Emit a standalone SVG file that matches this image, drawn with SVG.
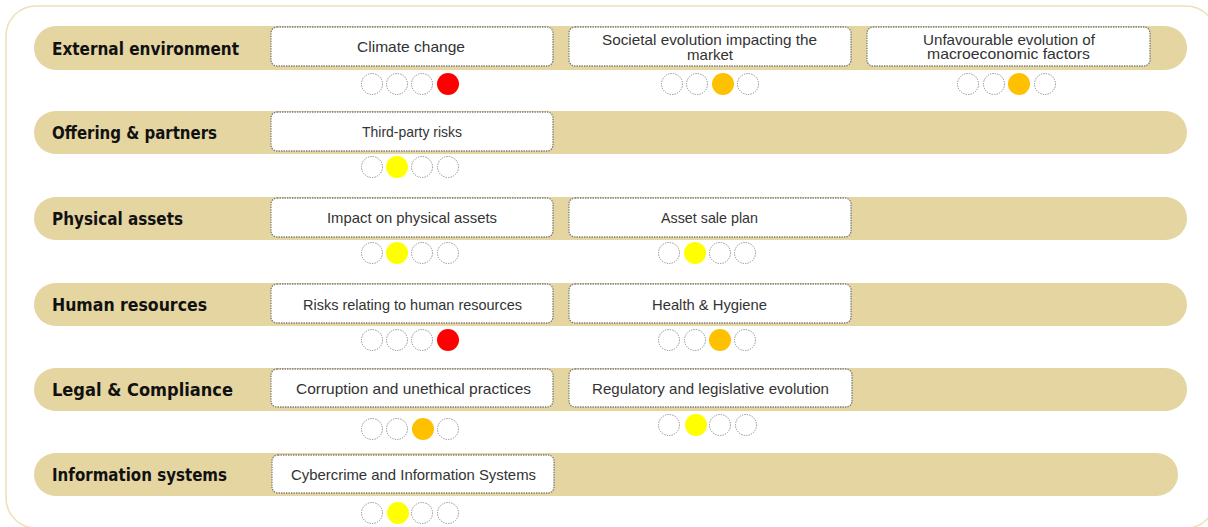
<svg xmlns="http://www.w3.org/2000/svg" width="1208" height="527" viewBox="0 0 1208 527">
<style>
.frame{fill:#fff;stroke:#EDE1B6;stroke-width:1.6}
.band{fill:#E4D5A1}
.lbl{font-family:"DejaVu Sans","Liberation Sans",sans-serif;font-weight:bold;font-size:17.5px;fill:#111}
.box{fill:#fff;stroke:#7a7a7a;stroke-width:1.3;stroke-dasharray:1.4 1.1}
.txt{font-family:"Liberation Sans","DejaVu Sans",sans-serif;font-size:14.5px;fill:#333;text-anchor:middle}
.e{fill:#fff;stroke:#8a8a8a;stroke-width:1;stroke-dasharray:1.3 1.2}
.r{fill:#FF0000}.o{fill:#FFC000}.y{fill:#FFFF00}
</style>
<rect class="frame" x="6" y="6" width="1210" height="522" rx="30"/>
<g id="bands">
<g id="row-external"><rect class="band" x="34" y="26" width="1153" height="44" rx="22"/><text class="lbl" x="52" y="55" textLength="187" lengthAdjust="spacingAndGlyphs">External environment</text></g>
<g id="row-offering"><rect class="band" x="34" y="111" width="1153" height="43" rx="21.5"/><text class="lbl" x="52" y="139" textLength="165" lengthAdjust="spacingAndGlyphs">Offering &amp; partners</text></g>
<g id="row-physical"><rect class="band" x="34" y="197" width="1153" height="43" rx="21.5"/><text class="lbl" x="52" y="225" textLength="131" lengthAdjust="spacingAndGlyphs">Physical assets</text></g>
<g id="row-human"><rect class="band" x="34" y="283" width="1153" height="43" rx="21.5"/><text class="lbl" x="52" y="311" textLength="155" lengthAdjust="spacingAndGlyphs">Human resources</text></g>
<g id="row-legal"><rect class="band" x="34" y="368" width="1153" height="43" rx="21.5"/><text class="lbl" x="52" y="396" textLength="181" lengthAdjust="spacingAndGlyphs">Legal &amp; Compliance</text></g>
<g id="row-info"><rect class="band" x="34" y="453" width="1144" height="43" rx="21.5"/><text class="lbl" x="52" y="481" textLength="175" lengthAdjust="spacingAndGlyphs">Information systems</text></g>
</g>
<g id="connectors"/>
<g id="n-climate"><rect class="box" x="271" y="27" width="282" height="39" rx="6"/><text class="txt" x="411" y="52" textLength="108" lengthAdjust="spacingAndGlyphs">Climate change</text>
<circle class="e" cx="372" cy="84" r="10.5"/><circle class="e" cx="397" cy="84" r="10.5"/><circle class="e" cx="422" cy="84" r="10.5"/><circle class="r" cx="448" cy="84" r="11"/></g>
<g id="n-societal"><rect class="box" x="569" y="27" width="282" height="39" rx="6"/><text class="txt" x="709.5" y="45" textLength="215" lengthAdjust="spacingAndGlyphs">Societal evolution impacting the</text><text class="txt" x="710" y="60" textLength="46" lengthAdjust="spacingAndGlyphs">market</text>
<circle class="e" cx="672" cy="84" r="10.5"/><circle class="e" cx="697" cy="84" r="10.5"/><circle class="o" cx="723" cy="84" r="11"/><circle class="e" cx="748" cy="84" r="10.5"/></g>
<g id="n-macro"><rect class="box" x="867" y="27" width="283" height="39" rx="6"/><text class="txt" x="1009" y="45" textLength="172" lengthAdjust="spacingAndGlyphs">Unfavourable evolution of</text><text class="txt" x="1008.5" y="59" textLength="163" lengthAdjust="spacingAndGlyphs">macroeconomic factors</text>
<circle class="e" cx="968" cy="84" r="10.5"/><circle class="e" cx="994" cy="84" r="10.5"/><circle class="o" cx="1019" cy="84" r="11"/><circle class="e" cx="1045" cy="84" r="10.5"/></g>
<g id="n-thirdparty"><rect class="box" x="271" y="112" width="282" height="39" rx="6"/><text class="txt" x="412" y="137" textLength="100" lengthAdjust="spacingAndGlyphs">Third-party risks</text>
<circle class="e" cx="372" cy="167" r="10.5"/><circle class="y" cx="397" cy="167" r="11"/><circle class="e" cx="422" cy="167" r="10.5"/><circle class="e" cx="448" cy="167" r="10.5"/></g>
<g id="n-physical"><rect class="box" x="271" y="198" width="282" height="39" rx="6"/><text class="txt" x="412" y="223" textLength="170" lengthAdjust="spacingAndGlyphs">Impact on physical assets</text>
<circle class="e" cx="372" cy="253" r="10.5"/><circle class="y" cx="397" cy="253" r="11"/><circle class="e" cx="422" cy="253" r="10.5"/><circle class="e" cx="448" cy="253" r="10.5"/></g>
<g id="n-assetsale"><rect class="box" x="569" y="198" width="282" height="39" rx="6"/><text class="txt" x="709.5" y="223" textLength="97" lengthAdjust="spacingAndGlyphs">Asset sale plan</text>
<circle class="e" cx="669" cy="253" r="10.5"/><circle class="y" cx="695" cy="253" r="11"/><circle class="e" cx="720" cy="253" r="10.5"/><circle class="e" cx="745" cy="253" r="10.5"/></g>
<g id="n-hr"><rect class="box" x="271" y="284" width="282" height="39" rx="6"/><text class="txt" x="412.5" y="310" textLength="219" lengthAdjust="spacingAndGlyphs">Risks relating to human resources</text>
<circle class="e" cx="372" cy="340" r="10.5"/><circle class="e" cx="397" cy="340" r="10.5"/><circle class="e" cx="422" cy="340" r="10.5"/><circle class="r" cx="448" cy="340" r="11"/></g>
<g id="n-health"><rect class="box" x="569" y="284" width="282" height="39" rx="6"/><text class="txt" x="709.5" y="310" textLength="115" lengthAdjust="spacingAndGlyphs">Health &amp; Hygiene</text>
<circle class="e" cx="669" cy="340" r="10.5"/><circle class="e" cx="695" cy="340" r="10.5"/><circle class="o" cx="720" cy="340" r="11"/><circle class="e" cx="745" cy="340" r="10.5"/></g>
<g id="n-corruption"><rect class="box" x="271" y="369" width="282" height="38" rx="6"/><text class="txt" x="413.5" y="394" textLength="235" lengthAdjust="spacingAndGlyphs">Corruption and unethical practices</text>
<circle class="e" cx="372" cy="429" r="10.5"/><circle class="e" cx="397" cy="429" r="10.5"/><circle class="o" cx="423" cy="429" r="11"/><circle class="e" cx="448" cy="429" r="10.5"/></g>
<g id="n-regulatory"><rect class="box" x="569" y="369" width="283" height="38" rx="6"/><text class="txt" x="710.5" y="394" textLength="237" lengthAdjust="spacingAndGlyphs">Regulatory and legislative evolution</text>
<circle class="e" cx="669" cy="425" r="10.5"/><circle class="y" cx="696" cy="425" r="11"/><circle class="e" cx="720" cy="425" r="10.5"/><circle class="e" cx="746" cy="425" r="10.5"/></g>
<g id="n-cyber"><rect class="box" x="272" y="455" width="282" height="38" rx="6"/><text class="txt" x="413.5" y="480" textLength="245" lengthAdjust="spacingAndGlyphs">Cybercrime and Information Systems</text>
<circle class="e" cx="372" cy="513" r="10.5"/><circle class="y" cx="398" cy="513" r="11"/><circle class="e" cx="422" cy="513" r="10.5"/><circle class="e" cx="448" cy="513" r="10.5"/></g>
</svg>
